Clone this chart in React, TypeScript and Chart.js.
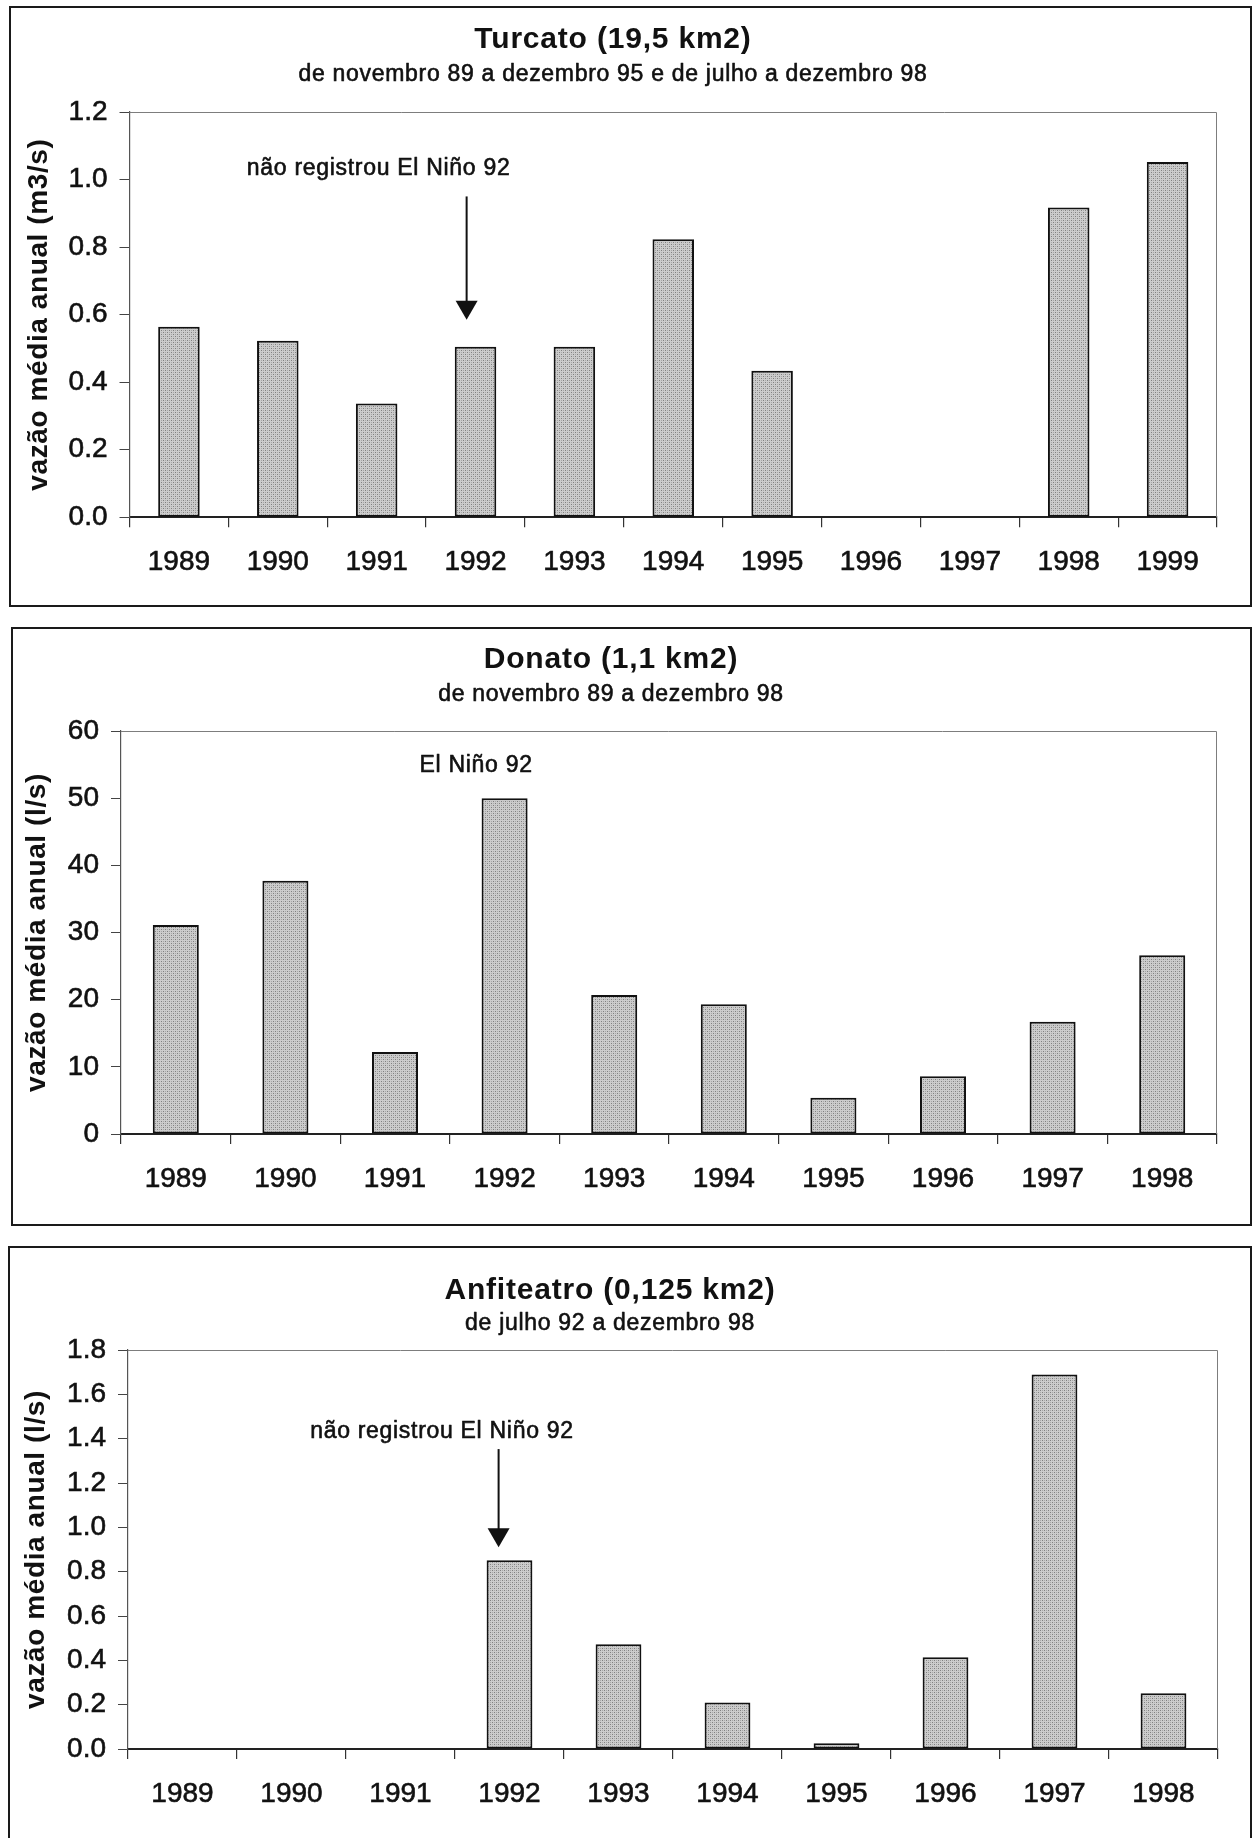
import { useEffect, useRef } from 'react';
import { Chart, registerables } from 'chart.js';

Chart.register(...registerables);

// ---------- data ----------
const turcatoYears = ['1989', '1990', '1991', '1992', '1993', '1994', '1995', '1996', '1997', '1998', '1999'];
const turcatoFlow: (number | null)[] = [0.564, 0.523, 0.337, 0.505, 0.505, 0.823, 0.434, null, null, 0.917, 1.052];

const donatoYears = ['1989', '1990', '1991', '1992', '1993', '1994', '1995', '1996', '1997', '1998'];
const donatoFlow: (number | null)[] = [31.1, 37.7, 12.2, 50.0, 20.7, 19.3, 5.4, 8.6, 16.7, 26.6];

const anfiteatroYears = ['1989', '1990', '1991', '1992', '1993', '1994', '1995', '1996', '1997', '1998'];
const anfiteatroFlow: (number | null)[] = [null, null, null, 0.851, 0.473, 0.21, 0.026, 0.414, 1.69, 0.251];

const turcatoAxis = [0, 1.2, 0.2, 1]; // min, max, step, decimals
const donatoAxis = [0, 60, 10, 0];
const anfiteatroAxis = [0, 1.8, 0.2, 1];

const FONT = '"Liberation Sans", Arial, Helvetica, sans-serif';

interface Note {
  text: string;
  idx: number;
  val: number;
  arrow?: { idx: number; from: number; to: number };
}

interface PanelSpec {
  title: string;
  subtitle: string;
  yTitle: string;
  labels: string[];
  values: (number | null)[];
  axis: number[];
  note: Note;
  box: { left: number; top: number; width: number; height: number };
  plot: { left: number; top: number; right: number; bottom: number };
  titleX: number;
  titleY: number;
  subtitleY: number;
  yTitleX: number;
}

const BORDER = 2;
const XAXIS_H = 70;

const panels: PanelSpec[] = [
  {
    title: 'Turcato (19,5 km2)',
    subtitle: 'de novembro 89 a dezembro 95 e de julho a dezembro 98',
    yTitle: 'vazão média anual (m3/s)',
    labels: turcatoYears,
    values: turcatoFlow,
    axis: turcatoAxis,
    note: { text: 'não registrou El Niño 92', idx: 2.02, val: 1.013, arrow: { idx: 2.91, from: 0.95, to: 0.585 } },
    box: { left: 9, top: 6, width: 1243, height: 601 },
    plot: { left: 118.5, top: 104, right: 1206, bottom: 509.3 },
    titleX: 602,
    titleY: 40,
    subtitleY: 73,
    yTitleX: 28,
  },
  {
    title: 'Donato (1,1 km2)',
    subtitle: 'de novembro 89 a dezembro 98',
    yTitle: 'vazão média anual (l/s)',
    labels: donatoYears,
    values: donatoFlow,
    axis: donatoAxis,
    note: { text: 'El Niño 92', idx: 2.74, val: 53.9 },
    box: { left: 11, top: 627, width: 1241, height: 599 },
    plot: { left: 108, top: 102, right: 1204, bottom: 505 },
    titleX: 598,
    titleY: 39,
    subtitleY: 72,
    yTitleX: 24,
  },
  {
    title: 'Anfiteatro (0,125 km2)',
    subtitle: 'de julho 92 a dezembro 98',
    yTitle: 'vazão média anual (l/s)',
    labels: anfiteatroYears,
    values: anfiteatroFlow,
    axis: anfiteatroAxis,
    note: { text: 'não registrou El Niño 92', idx: 2.38, val: 1.404, arrow: { idx: 2.9, from: 1.353, to: 0.91 } },
    box: { left: 8, top: 1246, width: 1244, height: 600 },
    plot: { left: 118, top: 102, right: 1208, bottom: 501 },
    titleX: 600,
    titleY: 51,
    subtitleY: 81.6,
    yTitleX: 26,
  },
];

function makePattern(): CanvasPattern | string {
  const c = document.createElement('canvas');
  c.width = 4;
  c.height = 4;
  const g = c.getContext('2d');
  if (!g) return '#bebebe';
  g.fillStyle = '#cccccc';
  g.fillRect(0, 0, 4, 4);
  g.fillStyle = '#808080';
  g.fillRect(0, 0, 1, 1);
  g.fillRect(2, 2, 1, 1);
  g.fillStyle = '#a8a8a8';
  g.fillRect(2, 0, 1, 1);
  g.fillRect(0, 2, 1, 1);
  return g.createPattern(c, 'repeat') ?? '#bebebe';
}

function heavyText(ctx: CanvasRenderingContext2D, text: string, x: number, y: number, stroke: number) {
  ctx.fillText(text, x, y);
  if (stroke > 0) {
    ctx.lineWidth = stroke;
    ctx.strokeText(text, x, y);
  }
}

function Panel({ spec }: { spec: PanelSpec }) {
  const ref = useRef<HTMLCanvasElement | null>(null);
  const cw = spec.box.width - 2 * BORDER;
  const ch = spec.box.height - 2 * BORDER;

  useEffect(() => {
    const canvas = ref.current;
    if (!canvas) return;
    const [yMin, yMax, yStep, decimals] = spec.axis;

    const deco = {
      id: 'deco',
      afterDraw(chart: any) {
        const { ctx, chartArea: a, scales } = chart;
        const xs = scales.x;
        const ys = scales.y;
        ctx.save();
        // plot frame (top & right)
        ctx.strokeStyle = '#7d7d7d';
        ctx.lineWidth = 1;
        ctx.beginPath();
        ctx.moveTo(a.left, a.top + 0.5);
        ctx.lineTo(a.right - 0.5, a.top + 0.5);
        ctx.lineTo(a.right - 0.5, a.bottom);
        ctx.stroke();

        ctx.fillStyle = '#111';
        ctx.strokeStyle = '#111';
        ctx.lineJoin = 'round';
        ctx.textAlign = 'center';
        ctx.textBaseline = 'alphabetic';
        ctx.font = `bold 30px ${FONT}`;
        ctx.letterSpacing = '0.8px';
        heavyText(ctx, spec.title, spec.titleX, spec.titleY, 0);
        ctx.font = `23px ${FONT}`;
        ctx.letterSpacing = '0.7px';
        heavyText(ctx, spec.subtitle, spec.titleX, spec.subtitleY, 0.6);

        // y-axis title
        ctx.save();
        ctx.translate(spec.yTitleX, (a.top + a.bottom) / 2);
        ctx.rotate(-Math.PI / 2);
        ctx.font = `bold 28px ${FONT}`;
        ctx.letterSpacing = '0.6px';
        ctx.textBaseline = 'middle';
        heavyText(ctx, spec.yTitle, 0, 0, 0);
        ctx.restore();

        // annotation
        const n = spec.note;
        ctx.font = `23px ${FONT}`;
        ctx.letterSpacing = '0.7px';
        ctx.textBaseline = 'alphabetic';
        heavyText(ctx, n.text, xs.getPixelForValue(n.idx), ys.getPixelForValue(n.val), 0.6);
        ctx.letterSpacing = '0px';
        if (n.arrow) {
          const ax = xs.getPixelForValue(n.arrow.idx);
          const y0 = ys.getPixelForValue(n.arrow.from);
          const y1 = ys.getPixelForValue(n.arrow.to);
          const head = 19;
          ctx.strokeStyle = '#111';
          ctx.lineWidth = 2;
          ctx.beginPath();
          ctx.moveTo(ax, y0);
          ctx.lineTo(ax, y1 - head + 1);
          ctx.stroke();
          ctx.beginPath();
          ctx.moveTo(ax - 11, y1 - head);
          ctx.lineTo(ax + 11, y1 - head);
          ctx.lineTo(ax, y1);
          ctx.closePath();
          ctx.fill();
        }
        ctx.restore();
      },
    };

    const chart = new Chart(canvas, {
      type: 'bar',
      data: {
        labels: spec.labels,
        datasets: [
          {
            data: spec.values,
            backgroundColor: makePattern() as any,
            borderColor: '#111',
            borderWidth: 2,
            borderSkipped: false,
            barPercentage: 0.42,
            categoryPercentage: 1,
          },
        ],
      },
      options: {
        animation: false,
        responsive: false,
        maintainAspectRatio: false,
        devicePixelRatio: 1,
        layout: {
          padding: {
            left: 0,
            top: spec.plot.top,
            right: cw - spec.plot.right,
            bottom: ch - spec.plot.bottom - XAXIS_H,
          },
        },
        plugins: {
          legend: { display: false },
          tooltip: { enabled: false },
          title: { display: false },
        },
        scales: {
          x: {
            type: 'category',
            offset: true,
            afterFit: (s: any) => {
              s.height = XAXIS_H;
            },
            grid: {
              offset: true,
              drawOnChartArea: false,
              drawTicks: true,
              tickLength: 10,
              color: '#333',
              lineWidth: 1.2,
            },
            border: { display: true, color: '#222', width: 2 },
            ticks: {
              color: '#111',
              font: { family: FONT, size: 28 },
              textStrokeColor: '#111',
              textStrokeWidth: 0.6,
              padding: 18,
              maxRotation: 0,
              autoSkip: false,
            },
          },
          y: {
            min: yMin,
            max: yMax,
            afterFit: (s: any) => {
              s.width = spec.plot.left;
            },
            afterBuildTicks: (s: any) => {
              const t = [];
              for (let v = yMin; v <= yMax + 1e-9; v += yStep) t.push({ value: Math.round(v * 1000) / 1000 });
              s.ticks = t;
            },
            grid: {
              drawOnChartArea: false,
              drawTicks: true,
              tickLength: 10,
              color: '#444',
              lineWidth: 1,
            },
            border: { display: true, color: '#555', width: 1.2 },
            ticks: {
              color: '#111',
              font: { family: FONT, size: 28 },
              textStrokeColor: '#111',
              textStrokeWidth: 0.6,
              padding: 12,
              callback: (v: any) => Number(v).toFixed(decimals),
            },
          },
        },
      },
      plugins: [deco],
    });
    return () => chart.destroy();
  }, [spec]);

  return (
    <div
      style={{
        position: 'absolute',
        left: spec.box.left,
        top: spec.box.top,
        width: spec.box.width,
        height: spec.box.height,
        border: `${BORDER}px solid #1a1a1a`,
        boxSizing: 'border-box',
        background: '#fff',
      }}
    >
      <canvas
        ref={ref}
        width={cw}
        height={ch}
        style={{ position: 'absolute', left: 0, top: 0, width: cw, height: ch, display: 'block' }}
      />
    </div>
  );
}

export default function App() {
  return (
    <div
      style={{
        position: 'fixed',
        left: 0,
        top: 0,
        width: 1254,
        height: 1838,
        overflow: 'hidden',
        background: '#fff',
      }}
    >
      {panels.map((p) => (
        <Panel key={p.title} spec={p} />
      ))}
    </div>
  );
}
